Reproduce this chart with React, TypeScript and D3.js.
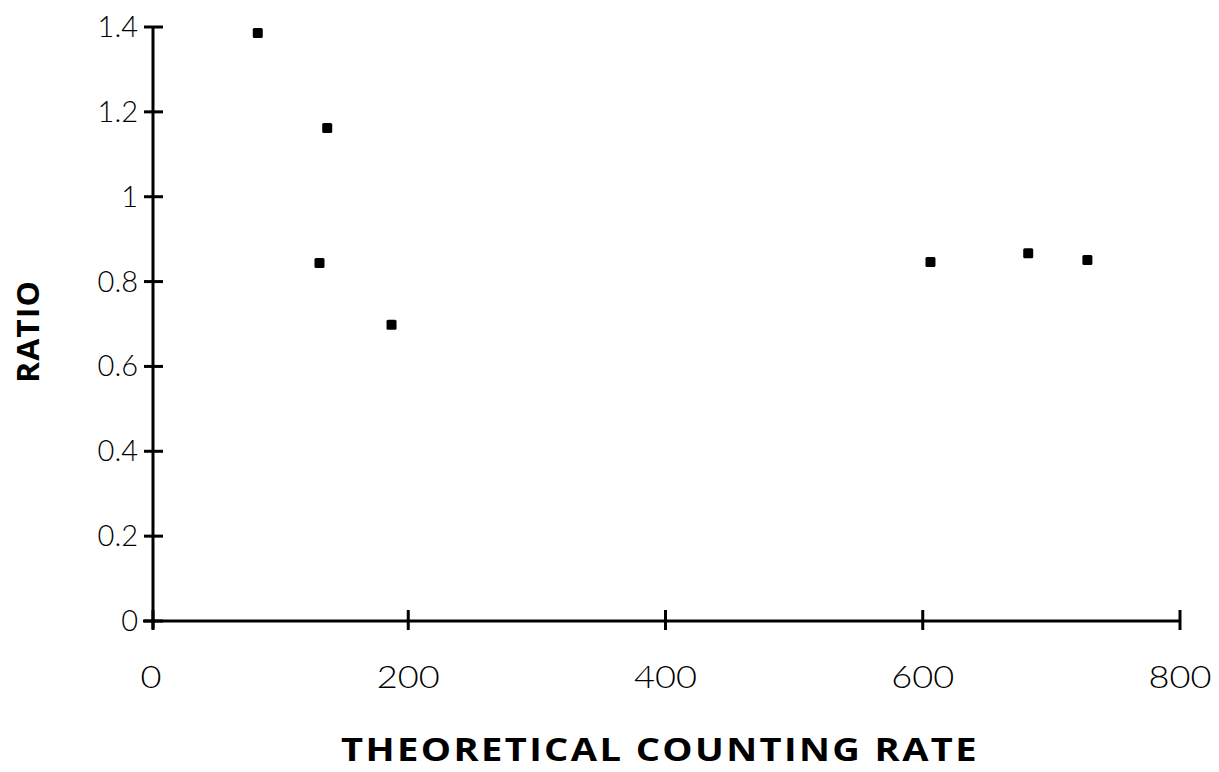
import React, { useEffect, useRef } from 'react';
import * as d3 from 'd3';

const rates = [83, 137, 131, 187, 606, 682, 728];
const ratios = [1.386, 1.162, 0.844, 0.698, 0.846, 0.867, 0.851];
const xTicks = [0, 200, 400, 600, 800];
const yTicks = [0, 0.2, 0.4, 0.6, 0.8, 1, 1.2, 1.4];

const W = 1219;
const H = 772;

export default function App() {
  const ref = useRef<SVGSVGElement>(null);

  useEffect(() => {
    const svg = d3.select(ref.current);
    svg.selectAll('*').remove();

    const x = d3.scaleLinear().domain([0, 800]).range([151, 1180]);
    const y = d3.scaleLinear().domain([0, 1.4]).range([621, 27]);

    const g = svg.append('g');

    // axes lines
    g.append('line')
      .attr('x1', x(0) + 2).attr('x2', x(0) + 2)
      .attr('y1', y(1.4)).attr('y2', y(0) + 8)
      .attr('stroke', '#000').attr('stroke-width', 3);
    g.append('line')
      .attr('x1', x(0) - 8).attr('x2', x(800))
      .attr('y1', y(0)).attr('y2', y(0))
      .attr('stroke', '#000').attr('stroke-width', 3);

    // y ticks
    g.selectAll('.yt').data(yTicks).enter().append('line')
      .attr('x1', x(0) - 7).attr('x2', x(0) + 12)
      .attr('y1', d => y(d)).attr('y2', d => y(d))
      .attr('stroke', '#000').attr('stroke-width', 3);
    g.selectAll('.yl').data(yTicks).enter().append('text')
      .attr('x', 138).attr('y', d => y(d) + 10)
      .attr('text-anchor', 'end')
      .style('font-family', 'Lato, "Open Sans", sans-serif')
      .style('font-weight', 300)
      .style('font-size', '29px')
      .text(d => (d === 0 || d === 1 ? String(d) : d3.format('.1f')(d)));

    // x ticks
    g.selectAll('.xt').data(xTicks).enter().append('line')
      .attr('x1', d => x(d) + (d === 0 ? 2 : 0)).attr('x2', d => x(d) + (d === 0 ? 2 : 0))
      .attr('y1', y(0) - 11).attr('y2', y(0) + 9)
      .attr('stroke', '#000').attr('stroke-width', 3);
    g.selectAll('.xl').data(xTicks).enter().append('text')
      .attr('x', d => x(d)).attr('y', 688)
      .attr('text-anchor', 'middle')
      .attr('textLength', d => String(d).length * 21)
      .attr('lengthAdjust', 'spacingAndGlyphs')
      .style('font-family', 'Lato, "Open Sans", sans-serif')
      .style('font-weight', 300)
      .style('font-size', '31px')
      .text(d => String(d));

    // points
    g.selectAll('.pt').data(rates).enter().append('rect')
      .attr('x', d => x(d) - 5)
      .attr('y', (d, i) => y(ratios[i]) - 5)
      .attr('width', 10).attr('height', 10)
      .attr('rx', 1.5)
      .attr('fill', '#000');

    // axis titles
    svg.append('text')
      .attr('x', 341).attr('y', 761)
      .attr('textLength', 638)
      .attr('lengthAdjust', 'spacingAndGlyphs')
      .style('font-family', '"Open Sans", sans-serif')
      .style('font-weight', 700)
      .style('font-size', '32px')
      .style('letter-spacing', '2px')
      .text('THEORETICAL COUNTING RATE');

    svg.append('text')
      .attr('transform', 'translate(39,383) rotate(-90)')
      .attr('textLength', 103)
      .attr('lengthAdjust', 'spacingAndGlyphs')
      .style('font-family', '"Open Sans", sans-serif')
      .style('font-weight', 700)
      .style('font-size', '30px')
      .style('letter-spacing', '1px')
      .text('RATIO');
  }, []);

  return (
    <svg
      ref={ref}
      width={W}
      height={H}
      style={{ position: 'absolute', left: 0, top: 0, background: '#fff' }}
    />
  );
}
